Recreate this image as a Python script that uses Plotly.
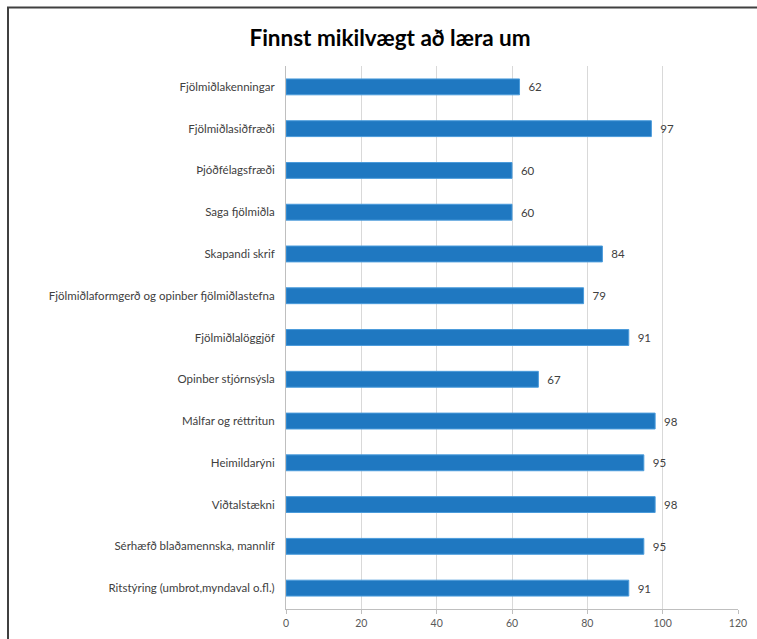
import plotly.graph_objects as go

categories = [
    "Fjölmiðlakenningar",
    "Fjölmiðlasiðfræði",
    "Þjóðfélagsfræði",
    "Saga fjölmiðla",
    "Skapandi skrif",
    "Fjölmiðlaformgerð og opinber fjölmiðlastefna",
    "Fjölmiðlalöggjöf",
    "Opinber stjórnsýsla",
    "Málfar og réttritun",
    "Heimildarýni",
    "Viðtalstækni",
    "Sérhæfð blaðamennska, mannlíf",
    "Ritstýring (umbrot,myndaval o.fl.)",
]
values = [62, 97, 60, 60, 84, 79, 91, 67, 98, 95, 98, 95, 91]
x_ticks = [0, 20, 40, 60, 80, 100, 120]
title_text = "Finnst mikilvægt að læra um"

W, H = 757, 639
ml, mr, mt, mb = 286, 19, 66, 30

fig = go.Figure(
    go.Bar(
        x=values,
        y=categories,
        orientation="h",
        marker=dict(color="#1F78C1", line=dict(color="#4A9BDB", width=1)),
        text=values,
        texttemplate="  %{x}",
        textposition="outside",
        textfont=dict(family="Lato, Open Sans, sans-serif", size=11.5, color="#404040"),
        cliponaxis=False,
        width=0.38,
    )
)

pw = W - ml - mr
ph = H - mt - mb

fig.update_layout(
    width=W,
    height=H,
    margin=dict(l=ml, r=mr, t=mt, b=mb, autoexpand=False),
    paper_bgcolor="white",
    plot_bgcolor="white",
    showlegend=False,
    font=dict(family="Lato, Open Sans, sans-serif", color="#404040"),
    title=dict(
        text=title_text,
        x=390 / W,
        xref="container",
        xanchor="center",
        y=1 - 38 / H,
        yref="container",
        yanchor="middle",
        font=dict(family="Lato, Open Sans, sans-serif", size=22.5, color="#000000", weight="bold"),
    ),
    xaxis=dict(
        range=[0, 120],
        tickvals=x_ticks,
        showgrid=True,
        gridcolor="#D9D9D9",
        gridwidth=1,
        zeroline=False,
        showline=True,
        linecolor="#BFBFBF",
        ticks="outside",
        ticklen=4,
        tickcolor="#BFBFBF",
        tickfont=dict(size=10.5, color="#595959"),
        automargin=False,
        fixedrange=True,
    ),
    yaxis=dict(
        autorange="reversed",
        showline=True,
        linecolor="#BFBFBF",
        ticks="",
        ticklabelstandoff=8,
        tickfont=dict(size=11.5, color="#404040"),
        showgrid=False,
        automargin=False,
        fixedrange=True,
    ),
    shapes=[
        dict(
            type="line",
            xref="paper",
            yref="paper",
            x0=(7 - ml) / pw,
            x1=(W - ml) / pw,
            y0=(H - 7.5 - mb) / ph,
            y1=(H - 7.5 - mb) / ph,
            line=dict(color="#404040", width=2),
            layer="below",
        ),
        dict(
            type="line",
            xref="paper",
            yref="paper",
            x0=(8 - ml) / pw,
            x1=(8 - ml) / pw,
            y0=-mb / ph,
            y1=(H - 7 - mb) / ph,
            line=dict(color="#404040", width=2),
            layer="below",
        ),
    ],
)

fig.write_html(
    "out.html",
    config={"displayModeBar": False},
    post_script="document.body.style.margin='0';document.body.style.overflow='hidden';",
)
